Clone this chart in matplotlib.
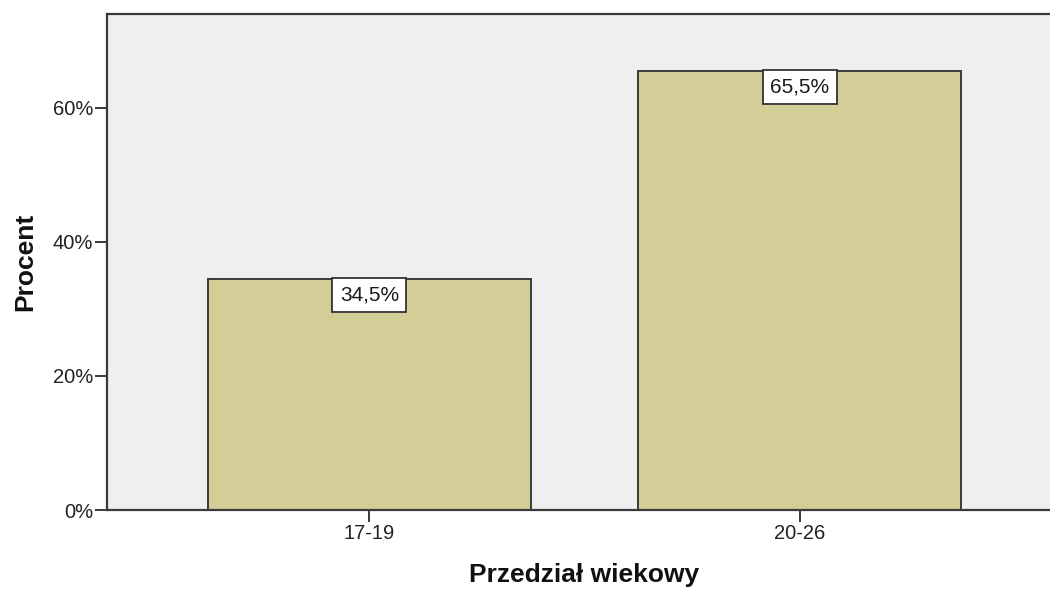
import matplotlib.pyplot as plt

# age groups and percentages
categories = ["17-19", "20-26"]
percent = [34.5, 65.5]
yticks = [0, 20, 40, 60]

plt.rcParams['font.family'] = ['Liberation Sans', 'DejaVu Sans']

fig = plt.figure(figsize=(10.5, 5.91), dpi=100)
ax = fig.add_axes([107 / 1050, 81 / 591, 955 / 1050, 496 / 591])
ax.set_facecolor('#efefef')

x = range(len(categories))
ax.bar(x, percent, width=0.75, color='#d3ce97', edgecolor='#3a3a3a', linewidth=1.4)

# value labels in white boxes hanging from the top of each bar
for xi, v in zip(x, percent):
    ax.annotate(f"{v:.1f}%".replace('.', ','), xy=(xi, v), xytext=(0, -4.6),
                textcoords='offset points', ha='center', va='top', fontsize=15,
                color='#1a1a1a',
                bbox=dict(boxstyle='square,pad=0.36', facecolor='white',
                          edgecolor='#333333', linewidth=1.3))

ax.set_xlim(-0.61, 1.61)
ax.set_ylim(0, 74)
ax.set_xticks(list(x))
ax.set_xticklabels(categories)
ax.set_yticks(yticks)
ax.set_yticklabels([f"{t}%" for t in yticks])
ax.tick_params(direction='out', length=8.6, width=1.4, color='#3a3a3a',
               labelsize=14.5, labelcolor='#222222', pad=1.5)

for s in ax.spines.values():
    s.set_color('#3a3a3a')
    s.set_linewidth(1.6)

ax.set_xlabel("Przedział wiekowy", fontsize=19, fontweight='bold', color='#111111')
ax.set_ylabel("Procent", fontsize=19, fontweight='bold', color='#111111')
ax.xaxis.set_label_coords(0.5, -0.107)
ax.yaxis.set_label_coords(-0.073, 0.5)

fig.savefig('out.png', dpi=100)
